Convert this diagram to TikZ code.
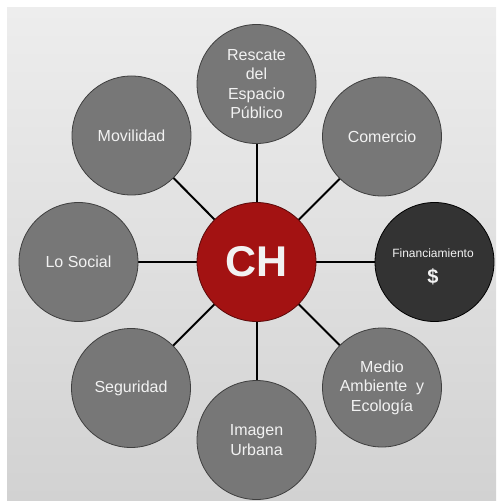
\documentclass[tikz,border=0pt]{standalone}
\usepackage{fontspec}
\setmainfont{Liberation Sans}
\pgfdeclarelayer{bg}
\pgfsetlayers{bg,main}
\definecolor{paperTop}{HTML}{EDEDED}
\definecolor{paperBot}{HTML}{D2D2D2}
\definecolor{bubble}{HTML}{777777}
\definecolor{bubbleEdge}{HTML}{3F3F3F}
\definecolor{hubRed}{HTML}{A31212}
\definecolor{hubEdge}{HTML}{5A0A0A}
\definecolor{darkBubble}{HTML}{333333}
\definecolor{txt}{HTML}{F2F2F2}
\tikzset{
  bubblenode/.style={circle, draw=bubbleEdge, line width=0.8pt, fill=bubble,
    minimum size=119pt, inner sep=0pt, text=txt, align=center,
    font=\fontsize{16}{19.5}\selectfont},
  hubnode/.style={bubblenode, fill=hubRed, draw=hubEdge,
    font=\fontsize{43}{46}\selectfont\bfseries},
  financenode/.style={bubblenode, fill=darkBubble, draw=black},
  spoke/.style={draw=black, line width=2pt}
}
\begin{document}
\begin{tikzpicture}[x=1pt, y=-1pt]
\useasboundingbox (0,0) rectangle (496,502);
\begin{pgfonlayer}{bg}
  \shade[top color=paperTop, bottom color=paperBot] (7,8) rectangle (496,500);
\end{pgfonlayer}
\node[hubnode] (ch) at (256.5,262) {CH};
\node[bubblenode] (rescate) at (256.5,84) {Rescate\\del\\Espacio\\Público};
\node[bubblenode] (comercio) at (382,136.5) {Comercio};
\node[financenode] (fin) at (434.5,262) {};
\node[text=txt, font=\fontsize{12}{14}\selectfont] (finlabel) at (433,253.5) {Financiamiento};
\node[text=txt, font=\fontsize{20}{22}\selectfont\bfseries] (dollar) at (433,277) {\$};
\node[bubblenode] (medio) at (382,387.5) {Medio\\Ambiente\ \ y\\Ecología};
\node[bubblenode] (imagen) at (256.5,440) {Imagen\\Urbana};
\node[bubblenode] (seguridad) at (131,388) {Seguridad};
\node[bubblenode] (social) at (78.5,262) {Lo Social};
\node[bubblenode] (movilidad) at (131.5,135.5) {Movilidad};
\begin{pgfonlayer}{bg}
  \foreach \n in {rescate,comercio,fin,medio,imagen,seguridad,social,movilidad}
    \draw[spoke] (ch.center) -- (\n.center);
\end{pgfonlayer}
\end{tikzpicture}
\end{document}
